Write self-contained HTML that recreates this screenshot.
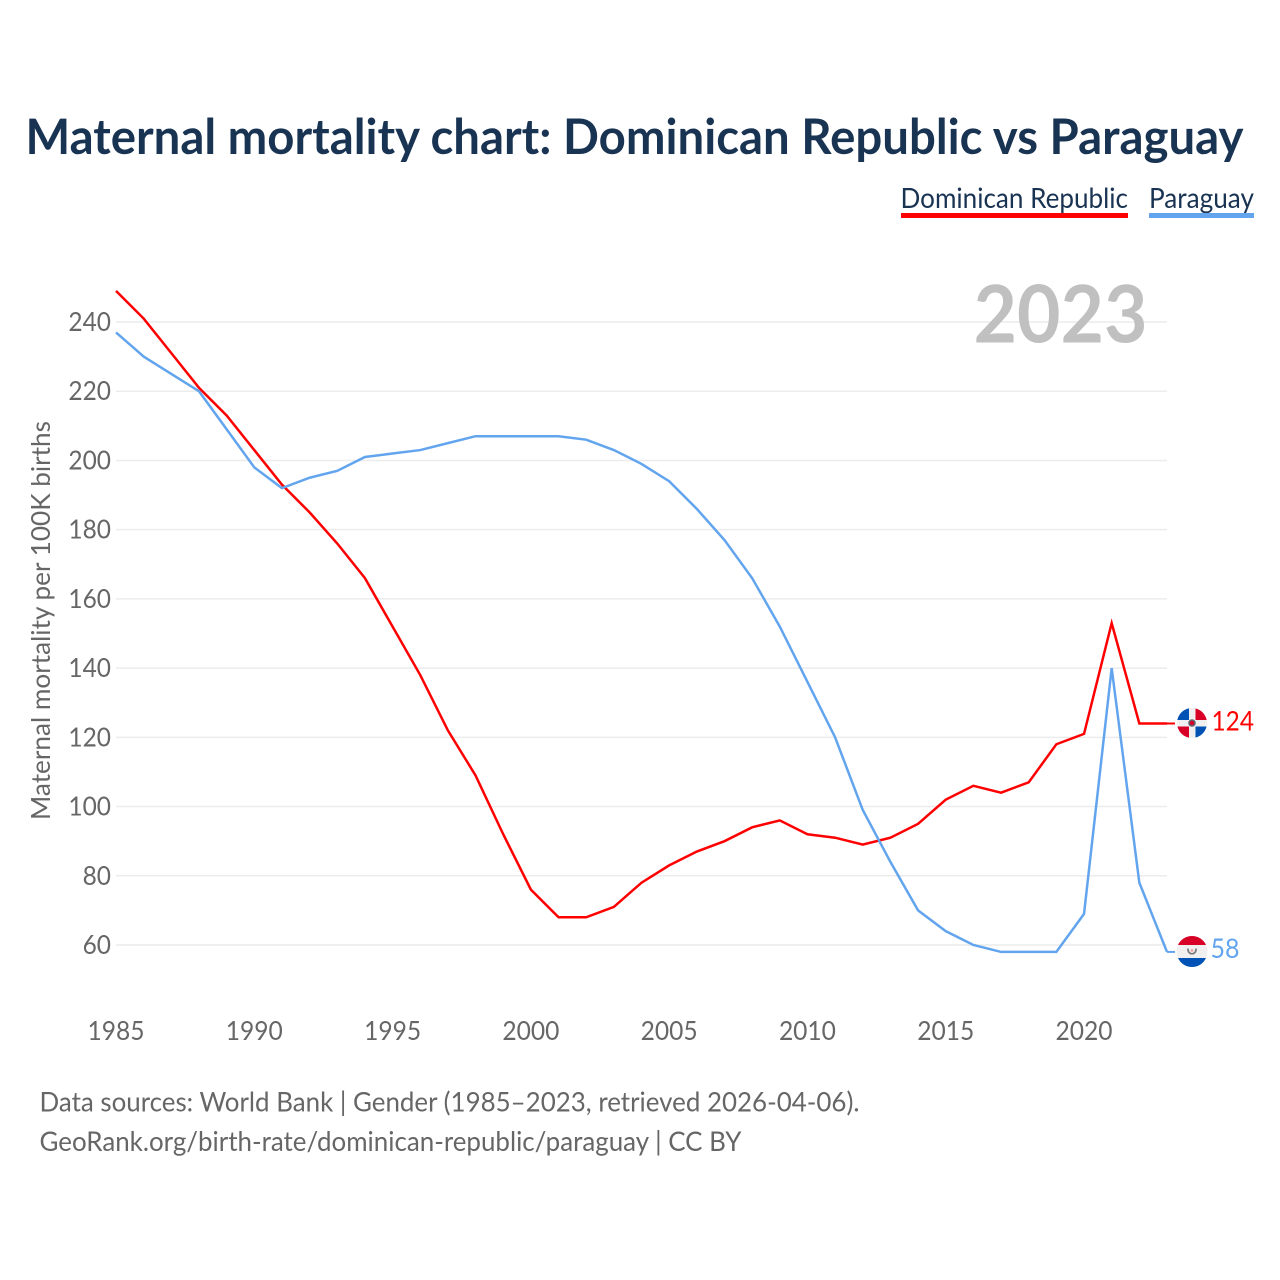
<!DOCTYPE html>
<html>
<head>
<meta charset="utf-8">
<title>Maternal mortality chart</title>
<style>
html,body{margin:0;padding:0;background:#fff;width:1280px;height:1280px;overflow:hidden}
svg{display:block}
text{font-family:"Lato","Carlito","Liberation Sans",sans-serif}
</style>
</head>
<body>
<svg id="chart" width="1280" height="1280" viewBox="0 0 1280 1280" xmlns="http://www.w3.org/2000/svg">
  <defs>
    <clipPath id="clip-dr"><circle cx="1192" cy="723" r="15"/></clipPath>
    <clipPath id="clip-py"><circle cx="1192" cy="951.5" r="15.5"/></clipPath>
  </defs>
  <text x="25.5" y="154" font-size="49" font-weight="700" fill="#193353" textLength="1218" lengthAdjust="spacingAndGlyphs">Maternal mortality chart: Dominican Republic vs Paraguay</text>
  <g>
    <g>
      <text x="900.5" y="208" font-size="28" fill="#193353" textLength="227.5" lengthAdjust="spacingAndGlyphs">Dominican Republic</text>
      <rect x="901" y="213" width="227" height="5" fill="#ff0000"/>
    </g>
    <g>
      <text x="1149" y="208" font-size="28" fill="#193353" textLength="105" lengthAdjust="spacingAndGlyphs">Paraguay</text>
      <rect x="1149" y="213" width="105" height="5" fill="#62a5ee"/>
    </g>
  </g>
  <g id="grid"></g>
  <text x="973.5" y="342.5" font-size="80" font-weight="700" fill="#c0c0c0" textLength="174" lengthAdjust="spacingAndGlyphs">2023</text>
  <g id="yticks"></g>
  <g id="xticks"></g>
  <text transform="translate(50,820) rotate(-90)" x="0" y="0" font-size="26" fill="#666666" textLength="399" lengthAdjust="spacingAndGlyphs">Maternal mortality per 100K births</text>
  <g id="series"></g>
  <g clip-path="url(#clip-dr)">
    <rect x="1177" y="708" width="30" height="30" fill="#f0f0f0"/>
    <rect x="1177" y="708" width="12" height="12" fill="#0052b4"/>
    <rect x="1195.5" y="708" width="12" height="12" fill="#d80027"/>
    <rect x="1177" y="726.5" width="12" height="12" fill="#d80027"/>
    <rect x="1195.5" y="726.5" width="12" height="12" fill="#0052b4"/>
    <circle cx="1192" cy="723" r="3.8" fill="#5e6670"/>
    <circle cx="1192" cy="723" r="2.2" fill="#d80027"/>
  </g>
  <g clip-path="url(#clip-py)">
    <rect x="1176" y="935" width="32" height="10" fill="#d80027"/>
    <rect x="1176" y="945" width="32" height="13" fill="#f0f0f0"/>
    <rect x="1176" y="958" width="32" height="10" fill="#0052b4"/>
    <path d="M1188.2 948.5 A4 4 0 1 0 1195.8 948.5" fill="none" stroke="#777" stroke-width="1.6"/>
    <circle cx="1192" cy="950.5" r="1.4" fill="#f2a0a0"/>
  </g>
  <text id="end-label-dr" x="1211.5" y="730.5" font-size="27" fill="#ff0000" textLength="42.5" lengthAdjust="spacingAndGlyphs"></text>
  <text id="end-label-py" x="1210.5" y="958" font-size="27" fill="#62a5ee" textLength="29" lengthAdjust="spacingAndGlyphs"></text>
  <g>
    <text x="39.5" y="1111.5" font-size="27" fill="#666666" textLength="820" lengthAdjust="spacingAndGlyphs">Data sources: World Bank | Gender (1985–2023, retrieved 2026-04-06).</text>
    <text x="39.5" y="1151" font-size="27" fill="#666666" textLength="702" lengthAdjust="spacingAndGlyphs">GeoRank.org/birth-rate/dominican-republic/paraguay | CC BY</text>
  </g>
</svg>
<script>
const years = [1985,1986,1987,1988,1989,1990,1991,1992,1993,1994,1995,1996,1997,1998,1999,2000,2001,2002,2003,2004,2005,2006,2007,2008,2009,2010,2011,2012,2013,2014,2015,2016,2017,2018,2019,2020,2021,2022,2023];
const dominicanRepublic = [249,241,231,221,213,203,193,185,176,166,152,138,122,109,92,76,68,68,71,78,83,87,90,94,96,92,91,89,91,95,102,106,104,107,118,121,153,124,124];
const paraguay = [237,230,225,220,209,198,192,195,197,201,202,203,205,207,207,207,207,206,203,199,194,186,177,166,152,136,120,99,84,70,64,60,58,58,58,69,140,78,58];
const yTickValues = [60,80,100,120,140,160,180,200,220,240];
const xTickValues = [1985,1990,1995,2000,2005,2010,2015,2020];

const SVG_NS = 'http://www.w3.org/2000/svg';
function xScale(year){ return 116 + (year - 1985) * (1051 / 38); }
function yScale(value){ return 322 + (240 - value) * (623 / 180); }

const gridGroup = document.getElementById('grid');
const yGroup = document.getElementById('yticks');
const xGroup = document.getElementById('xticks');
const seriesGroup = document.getElementById('series');

yTickValues.forEach(function(v){
  const line = document.createElementNS(SVG_NS, 'line');
  
  
  line.setAttribute('x1', 116);
  line.setAttribute('x2', 1167);
  line.setAttribute('y1', yScale(v));
  line.setAttribute('y2', yScale(v));
  line.setAttribute('stroke', '#ececec');
  line.setAttribute('stroke-width', 1.5);
  gridGroup.appendChild(line);

  const label = document.createElementNS(SVG_NS, 'text');
  
  
  label.setAttribute('x', 111);
  label.setAttribute('y', yScale(v) + 9);
  label.setAttribute('text-anchor', 'end');
  label.setAttribute('font-size', 26);
  label.setAttribute('fill', '#666666');
  label.setAttribute('textLength', String(v).length * 14.2);
  label.setAttribute('lengthAdjust', 'spacingAndGlyphs');
  label.textContent = v;
  yGroup.appendChild(label);
});

xTickValues.forEach(function(v){
  const label = document.createElementNS(SVG_NS, 'text');
  
  
  label.setAttribute('x', xScale(v));
  label.setAttribute('y', 1040);
  label.setAttribute('text-anchor', 'middle');
  label.setAttribute('font-size', 26);
  label.setAttribute('fill', '#666666');
  label.setAttribute('textLength', 57);
  label.setAttribute('lengthAdjust', 'spacingAndGlyphs');
  label.textContent = v;
  xGroup.appendChild(label);
});

function linePoints(values){
  return values.map(function(v, i){
    return xScale(years[i]).toFixed(2) + ',' + yScale(v).toFixed(2);
  }).join(' ');
}

const drLine = document.createElementNS(SVG_NS, 'polyline');


drLine.setAttribute('points', linePoints(dominicanRepublic));
drLine.setAttribute('fill', 'none');
drLine.setAttribute('stroke', '#ff0000');
drLine.setAttribute('stroke-width', 2.5);
seriesGroup.appendChild(drLine);

const pyLine = document.createElementNS(SVG_NS, 'polyline');


pyLine.setAttribute('points', linePoints(paraguay));
pyLine.setAttribute('fill', 'none');
pyLine.setAttribute('stroke', '#62a5ee');
pyLine.setAttribute('stroke-width', 2.5);
seriesGroup.appendChild(pyLine);

const drLast = dominicanRepublic[dominicanRepublic.length - 1];
const pyLast = paraguay[paraguay.length - 1];

const drLead = document.createElementNS(SVG_NS, 'line');


drLead.setAttribute('x1', xScale(2023));
drLead.setAttribute('x2', 1175);
drLead.setAttribute('y1', yScale(drLast));
drLead.setAttribute('y2', yScale(drLast));
drLead.setAttribute('stroke', '#ff0000');
drLead.setAttribute('stroke-width', 2);
seriesGroup.appendChild(drLead);

const pyLead = document.createElementNS(SVG_NS, 'line');


pyLead.setAttribute('x1', xScale(2023));
pyLead.setAttribute('x2', 1175);
pyLead.setAttribute('y1', yScale(pyLast));
pyLead.setAttribute('y2', yScale(pyLast));
pyLead.setAttribute('stroke', '#62a5ee');
pyLead.setAttribute('stroke-width', 2);
seriesGroup.appendChild(pyLead);

document.getElementById('end-label-dr').textContent = drLast;
document.getElementById('end-label-py').textContent = pyLast;
</script>
</body>
</html>
